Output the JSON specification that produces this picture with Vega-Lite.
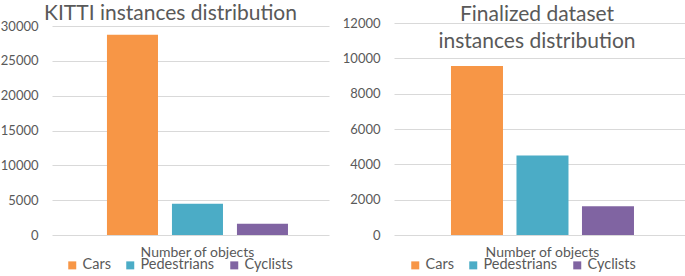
{
  "$schema": "https://vega.github.io/schema/vega-lite/v6.json",
  "background": "white",
  "padding": {"top": 3, "left": 0, "right": 0, "bottom": 0},
  "config": {
    "font": "Lato",
    "view": {"stroke": null},
    "axis": {
      "labelFont": "Lato",
      "labelColor": "#595959",
      "labelFontSize": 13,
      "gridColor": "#D9D9D9",
      "gridWidth": 1,
      "domain": false,
      "ticks": false,
      "title": null
    },
    "title": {"font": "Lato", "fontSize": 21, "fontWeight": "normal", "color": "#595959"},
    "legend": {
      "labelFont": "Lato",
      "labelFontSize": 14.5,
      "labelColor": "#595959",
      "symbolType": "square",
      "symbolSize": 64,
      "symbolStrokeWidth": 0,
      "labelOffset": 3,
      "columnPadding": 12,
      "padding": 0
    }
  },
  "datasets": {
    "kitti": [
      {"category": "Number of objects", "series": "Cars", "value": 28742},
      {"category": "Number of objects", "series": "Pedestrians", "value": 4487},
      {"category": "Number of objects", "series": "Cyclists", "value": 1627}
    ],
    "final": [
      {"category": "Number of objects", "series": "Cars", "value": 9570},
      {"category": "Number of objects", "series": "Pedestrians", "value": 4505},
      {"category": "Number of objects", "series": "Cyclists", "value": 1625}
    ]
  },
  "spacing": 13,
  "resolve": {"scale": {"color": "independent", "y": "independent", "x": "independent", "xOffset": "independent"}, "legend": {"color": "independent"}},
  "hconcat": [
    {
      "title": {"text": "KITTI instances distribution", "dx": -20, "offset": -4},
      "width": 277,
      "height": 212,
      "data": {"name": "kitti"},
      "mark": {"type": "bar"},
      "encoding": {
        "x": {
          "field": "category", "type": "nominal",
          "scale": {"paddingInner": 0, "paddingOuter": 0.2103, "align": 0.585},
          "axis": {"labelAngle": 0, "labelPadding": 10, "labelFontSize": 14, "grid": false}
        },
        "xOffset": {
          "field": "series", "type": "nominal", "sort": ["Cars", "Pedestrians", "Cyclists"],
          "scale": {"paddingInner": 0.215, "paddingOuter": 0.1075}
        },
        "y": {
          "field": "value", "type": "quantitative",
          "scale": {"domain": [0, 30431], "nice": false},
          "axis": {"values": [0, 5000, 10000, 15000, 20000, 25000, 30000], "format": "d", "labelPadding": 14, "grid": true}
        },
        "color": {
          "field": "series", "type": "nominal", "sort": ["Cars", "Pedestrians", "Cyclists"],
          "scale": {"domain": ["Cars", "Pedestrians", "Cyclists"], "range": ["#F79646", "#4BACC6", "#8064A2"]},
          "legend": {"orient": "none", "legendX": 13, "legendY": 235, "direction": "horizontal", "title": null}
        }
      }
    },
    {
      "title": {"text": ["Finalized dataset", "instances distribution"], "lineHeight": 27, "offset": -35, "dx": -3},
      "width": 292,
      "height": 212,
      "data": {"name": "final"},
      "mark": {"type": "bar"},
      "encoding": {
        "x": {
          "field": "category", "type": "nominal",
          "scale": {"paddingInner": 0, "paddingOuter": 0.243, "align": 0.526},
          "axis": {"labelAngle": 0, "labelPadding": 10, "labelFontSize": 14, "grid": false}
        },
        "xOffset": {
          "field": "series", "type": "nominal", "sort": ["Cars", "Pedestrians", "Cyclists"],
          "scale": {"paddingInner": 0.206, "paddingOuter": 0.103}
        },
        "y": {
          "field": "value", "type": "quantitative",
          "scale": {"domain": [0, 12000], "nice": false},
          "axis": {"values": [0, 2000, 4000, 6000, 8000, 10000, 12000], "format": "d", "labelPadding": 14, "grid": true}
        },
        "color": {
          "field": "series", "type": "nominal", "sort": ["Cars", "Pedestrians", "Cyclists"],
          "scale": {"domain": ["Cars", "Pedestrians", "Cyclists"], "range": ["#F79646", "#4BACC6", "#8064A2"]},
          "legend": {"orient": "none", "legendX": 14, "legendY": 235, "direction": "horizontal", "title": null}
        }
      }
    }
  ]
}
